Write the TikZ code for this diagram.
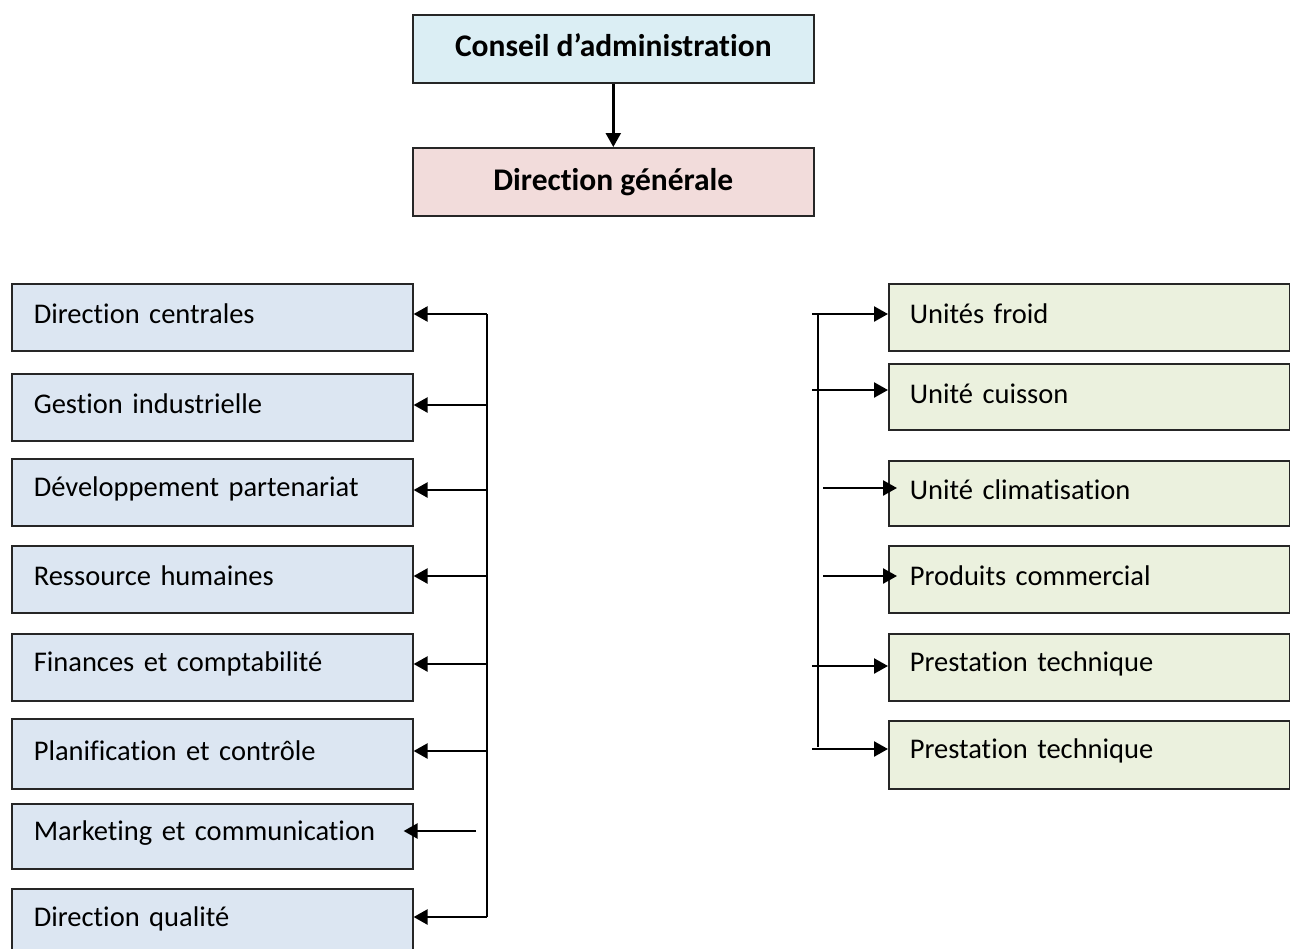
\documentclass[tikz,border=0pt]{standalone}
\usepackage{fontspec}
\setmainfont[Ligatures=NoCommon]{Carlito}
\usetikzlibrary{arrows.meta}
\definecolor{topfill}{HTML}{DBEEF4}
\definecolor{dgfill}{HTML}{F2DCDB}
\definecolor{lfill}{HTML}{DCE6F2}
\definecolor{rfill}{HTML}{EBF1DE}
\newcommand\liftup[1]{\raisebox{3.5pt}[\height][\depth]{#1}}
\begin{document}
\begin{tikzpicture}[x=1pt,y=-1pt,
  box/.style={draw=black!85, line width=1.6pt, minimum width=401pt, inner sep=0pt, anchor=north west},
  titlebox/.style={box, minimum height=68pt, font=\fontsize{31.5}{36}\bfseries\selectfont},
  lbox/.style={box, fill=lfill, text width=357pt, align=left, inner xsep=22pt, font=\fontsize{28.5}{33}\selectfont},
  rbox/.style={box, fill=rfill, text width=359pt, align=left, inner xsep=21pt, font=\fontsize{28.5}{33}\selectfont},
  arr/.style={line width=2.4pt, -{Triangle[length=14pt,width=15pt]}},
  trunk/.style={line width=2.4pt}]
\useasboundingbox (0,0) rectangle (1290,948);
\clip (0,0) rectangle (1290,948);

\node[titlebox, fill=topfill] (ca) at (412,14) {\liftup{Conseil d’administration}};
\node[titlebox, fill=dgfill] (dg) at (412,147) {Direction générale};
\draw[arr] (ca) -- (dg);

% left column
\node[lbox, minimum height=67pt] (L1) at (11,283) {\liftup{Direction centrales}};
\node[lbox, minimum height=67pt] (L2) at (11,373) {\liftup{Gestion industrielle}};
\node[lbox, minimum height=67pt] (L3) at (11,458) {\liftup{Développement partenariat}};
\node[lbox, minimum height=67pt] (L4) at (11,545) {\liftup{Ressource humaines}};
\node[lbox, minimum height=67pt] (L5) at (11,633) {\liftup{Finances et comptabilité}};
\node[lbox, minimum height=70pt] (L6) at (11,718) {\liftup{Planification et contrôle}};
\node[lbox, minimum height=65pt] (L7) at (11,803) {\liftup{Marketing et communication}};
\node[lbox, minimum height=67pt] (L8) at (11,888) {\liftup{Direction qualité}};

\coordinate (t1) at (487,314);
\coordinate (t2) at (487,405);
\coordinate (t3) at (487,490);
\coordinate (t4) at (487,576);
\coordinate (t5) at (487,664);
\coordinate (t6) at (487,751);
\coordinate (t7) at (476,831);
\coordinate (t8) at (487,917);
\draw[trunk] (t1) -- (t8);
\draw[arr] (t1) -- (t1 -| L1.east);
\draw[arr] (t2) -- (t2 -| L2.east);
\draw[arr] (t3) -- (t3 -| L3.east);
\draw[arr] (t4) -- (t4 -| L4.east);
\draw[arr] (t5) -- (t5 -| L5.east);
\draw[arr] (t6) -- (t6 -| L6.east);
\draw[arr, shorten >=-10pt] (t7) -- (t7 -| L7.east);
\draw[arr] (t8) -- (t8 -| L8.east);

% right column
\node[rbox, minimum height=67pt] (R1) at (888,283) {\liftup{Unités froid}};
\node[rbox, minimum height=66pt] (R2) at (888,363) {\liftup{Unité cuisson}};
\node[rbox, minimum height=65pt] (R3) at (888,460) {\liftup{Unité climatisation}};
\node[rbox, minimum height=67pt] (R4) at (888,545) {\liftup{Produits commercial}};
\node[rbox, minimum height=67pt] (R5) at (888,633) {\liftup{Prestation technique}};
\node[rbox, minimum height=68pt] (R6) at (888,720) {\liftup{Prestation technique}};

\coordinate (rt) at (818,313);
\coordinate (rb) at (818,747);
\draw[trunk] (rt) -- (rb);
\coordinate (s1) at (812,314);
\coordinate (s2) at (812,390);
\coordinate (s3) at (823,488);
\coordinate (s4) at (823,576);
\coordinate (s5) at (812,666);
\coordinate (s6) at (812,749);
\draw[arr] (s1) -- (s1 -| R1.west);
\draw[arr] (s2) -- (s2 -| R2.west);
\draw[arr, shorten >=-9pt] (s3) -- (s3 -| R3.west);
\draw[arr, shorten >=-9pt] (s4) -- (s4 -| R4.west);
\draw[arr] (s5) -- (s5 -| R5.west);
\draw[arr] (s6) -- (s6 -| R6.west);
\end{tikzpicture}
\end{document}
